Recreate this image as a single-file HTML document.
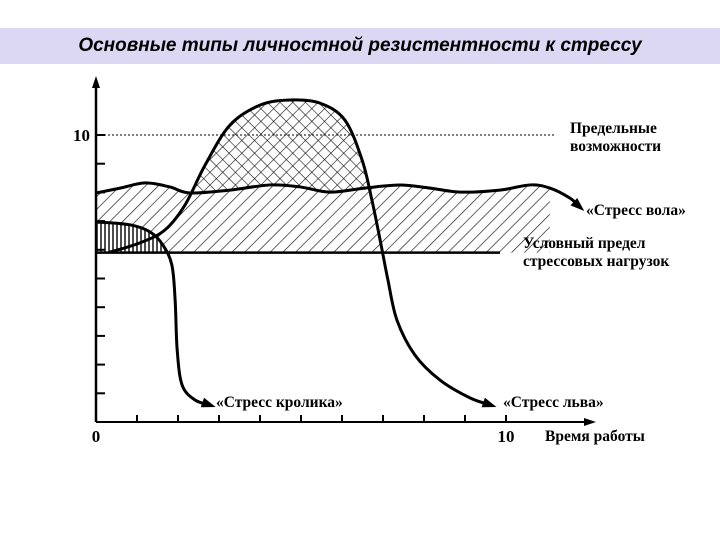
<!DOCTYPE html>
<html><head><meta charset="utf-8"><style>
body{margin:0;background:#fff;width:720px;height:540px;overflow:hidden;font-family:"Liberation Serif",serif}
#title{position:absolute;left:0;top:28px;width:720px;height:36px;background:#dcd8f4;font:italic bold 19px "Liberation Sans",sans-serif;text-align:center;line-height:36px;color:#000}
svg{position:absolute;left:0;top:0}
</style></head><body>
<div id="title">Основные типы личностной резистентности к стрессу</div>
<svg id="chart" width="720" height="540">
<defs>
<pattern id="diag" width="9" height="9" patternUnits="userSpaceOnUse" patternTransform="rotate(45)"><line x1="0" y1="0" x2="0" y2="9" stroke="#111" stroke-width="1.3"/></pattern>
<pattern id="cross" width="9" height="9" patternUnits="userSpaceOnUse" patternTransform="rotate(45)"><line x1="0" y1="0" x2="0" y2="9" stroke="#111" stroke-width="1.2"/><line x1="0" y1="0" x2="9" y2="0" stroke="#111" stroke-width="1.2"/></pattern>
<pattern id="vert" width="4" height="4" patternUnits="userSpaceOnUse"><line x1="1" y1="0" x2="1" y2="4" stroke="#111" stroke-width="1.5"/></pattern>
<clipPath id="aboveWave"><path id="clipP"/></clipPath>
</defs>
<g id="g"></g>
</svg>
<script>
const xTicks=[0,1,2,3,4,5,6,7,8,9,10];
const yTicks=[1,2,3,4,5,6,7,8,9,10];
const limitLevel=10;
const thresholdLevel=5.9;
const waveX=[0,0.59,1.2,1.8,2.29,3.27,4.24,4.98,5.7,6.56,7.41,8.15,8.88,9.85,10.59,11.07,11.56,11.8];
const waveY=[7.98,8.15,8.33,8.19,7.98,8.08,8.26,8.19,8.01,8.15,8.26,8.15,8.01,8.08,8.26,8.15,7.8,7.49];
const lionX=[0.34,1.07,1.68,2.17,2.66,3.27,4.0,4.73,5.46,6.07,6.49,6.73,6.93,7.12,7.34,7.78,8.39,9.12,9.63];
const lionY=[5.92,6.24,6.69,7.56,8.95,10.35,11.04,11.22,11.11,10.52,9.13,7.73,6.34,4.95,3.55,2.33,1.46,0.84,0.59];
const rabbitX=[0,0.83,1.32,1.63,1.85,1.93,1.98,2.1,2.41,2.78];
const rabbitY=[6.97,6.87,6.62,6.17,5.47,4.25,2.51,1.29,0.77,0.59];
const X=v=>96+41*v, Y=v=>422-28.7*v;
const NS='http://www.w3.org/2000/svg';
const g=document.getElementById('g');
function pts(xs,ys){return xs.map((x,i)=>[X(x),Y(ys[i])]);}
function smooth(p){let d='M'+p[0][0]+','+p[0][1];for(let i=0;i<p.length-1;i++){const a=p[i-1]||p[i],b=p[i],c=p[i+1],e=p[i+2]||c;d+=`C${b[0]+(c[0]-a[0])/6},${b[1]+(c[1]-a[1])/6} ${c[0]-(e[0]-b[0])/6},${c[1]-(e[1]-b[1])/6} ${c[0]},${c[1]}`;}return d;}
function mk(tag,at){const el=document.createElementNS(NS,tag);for(const k in at)el.setAttribute(k,at[k]);g.appendChild(el);return el;}
const wp=pts(waveX,waveY), lp=pts(lionX,lionY), rp=pts(rabbitX,rabbitY);
const baseY=Y(thresholdLevel);
const wIdx=waveX.findIndex(x=>x>11.07);
const wArea=wp.slice(0,wIdx);
let el;
el=mk('path',{d:smooth(wArea)+`L${wArea[wArea.length-1][0]},${baseY}L${X(0)},${baseY}Z`,fill:'url(#diag)'});


document.getElementById('clipP').setAttribute('d',smooth(wp)+`L${X(12)},0L${X(0)},0Z`);
el=mk('path',{d:smooth(lp)+`L${lp[0][0]},${baseY}Z`,fill:'#fff','clip-path':'url(#aboveWave)'});


el=mk('path',{d:smooth(lp)+`L${lp[0][0]},${baseY}Z`,fill:'url(#cross)','clip-path':'url(#aboveWave)'});


const rTop=rp.slice(0,5);
el=mk('path',{d:smooth(rTop)+`L${rTop[4][0]},${baseY}L${X(0)},${baseY}Z`,fill:'#fff'});


el=mk('path',{d:smooth(rTop)+`L${rTop[4][0]},${baseY}L${X(0)},${baseY}Z`,fill:'url(#vert)'});


el=mk('line',{x1:X(0),x2:555,y1:Y(limitLevel),y2:Y(limitLevel),stroke:'#333','stroke-width':1.2,'stroke-dasharray':'2,2'});


el=mk('line',{x1:X(0),x2:500,y1:baseY,y2:baseY,stroke:'#000','stroke-width':2.5});


[[wp,'ox-stress-curve'],[lp,'lion-stress-curve'],[rp,'rabbit-stress-curve']].forEach(([p,n])=>{
 const e=mk('path',{d:smooth(p),fill:'none',stroke:'#000','stroke-width':3});
 
 
 const a=p[p.length-1],b=p[p.length-2];const ang=Math.atan2(a[1]-b[1],a[0]-b[0]);
 const h=mk('polygon',{points:`${a[0]+6*Math.cos(ang)},${a[1]+6*Math.sin(ang)} ${a[0]-8*Math.cos(ang)-5*Math.sin(ang)},${a[1]-8*Math.sin(ang)+5*Math.cos(ang)} ${a[0]-8*Math.cos(ang)+5*Math.sin(ang)},${a[1]-8*Math.sin(ang)-5*Math.cos(ang)}`,fill:'#000'});
 
 
});
el=mk('line',{x1:X(0),x2:X(0),y1:Y(0),y2:82,stroke:'#000','stroke-width':2.5});


el=mk('line',{x1:X(0),x2:585,y1:Y(0),y2:Y(0),stroke:'#000','stroke-width':2});


el=mk('polygon',{points:`596,${Y(0)} 584,${Y(0)-4} 584,${Y(0)+4}`,fill:'#000'});


el=mk('polygon',{points:`${X(0)},76 ${X(0)-4},88 ${X(0)+4},88`,fill:'#000'});


xTicks.forEach(t=>{if(!t)return;const e=mk('line',{x1:X(t),x2:X(t),y1:Y(0)-7,y2:Y(0),stroke:'#000','stroke-width':2});

});
yTicks.forEach(t=>{const e=mk('line',{x1:X(0),x2:X(0)+9,y1:Y(t),y2:Y(t),stroke:'#000','stroke-width':2});

});
function txt(x,y,s,n,sz,anchor){const e=mk('text',{x:x,y:y,'font-size':sz||15.5,'font-weight':'bold','text-anchor':anchor||'start','font-family':'Liberation Serif, serif'});e.textContent=s;

return e;}
txt(X(0),442,'0','x-tick-label-0',17,'middle');
txt(X(10),442,'10','x-tick-label-10',17,'middle');
txt(90,Y(10)+6,'10','y-tick-label-10',17,'end');
txt(545,441,'Время работы','x-axis-title');
txt(570,133,'Предельные','limit-label-1');
txt(570,151,'возможности','limit-label-2');
txt(586,215,'«Стресс вола»','ox-label');
txt(523,248,'Условный предел','threshold-label-1');
txt(523,266,'стрессовых нагрузок','threshold-label-2');
txt(216,407,'«Стресс кролика»','rabbit-label');
txt(503,407,'«Стресс льва»','lion-label');
</script>
</body></html>
